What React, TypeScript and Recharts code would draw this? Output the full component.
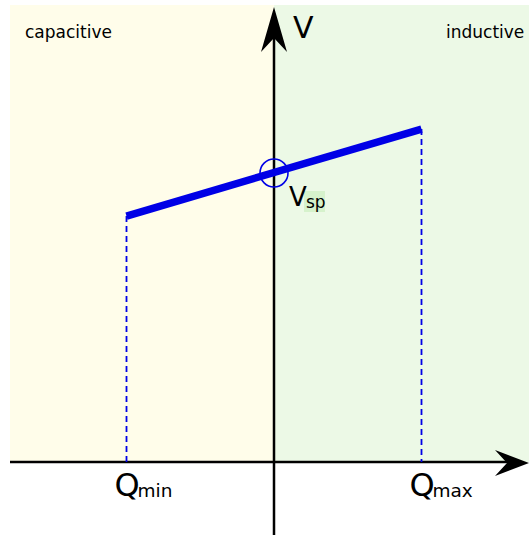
import { ComposedChart, Line, XAxis, YAxis, ReferenceArea, ReferenceLine, ReferenceDot } from 'recharts';

// Q in units of Qmax, V in units of Vsp
const qValues = [-1, 1];
const vValues = [0.851, 1.152];
const vsp = 1.0;
const regionLabels = ['capacitive', 'inductive'];
const axisLabels = { v: 'V', vsp: 'V', vspSub: 'sp', qmin: 'Q', qminSub: 'min', qmax: 'Q', qmaxSub: 'max' };

const lineData = qValues.map((q, i) => ({ q, v: vValues[i] }));

const PX_Q = 147.5;
const PX_V = 289;
const xDomain: [number, number] = [-274 / PX_Q, 255 / PX_Q];
const yDomain: [number, number] = [-73 / PX_V, 462 / PX_V];
const bgLeft = -264 / PX_Q;
const bgTop = 457 / PX_V;

const BLUE = '#0000e6';
const FONT = 'DejaVu Sans, sans-serif';

const upArrow = ({ cx, cy }: any) => (
  <path d={`M${cx},${cy + 7} L${cx + 13},${cy + 52} L${cx},${cy + 38} L${cx - 13},${cy + 52} Z`} fill="#000" />
);
const rightArrow = ({ cx, cy }: any) => (
  <path d={`M${cx},${cy + 1} L${cx - 34},${cy - 12} L${cx - 22},${cy + 1} L${cx - 34},${cy + 14} Z`} fill="#000" />
);
const textAt = (s: string, dx: number, dy: number, size: number) => ({ cx, cy }: any) => (
  <text x={cx + dx} y={cy + dy} fontFamily={FONT} fontSize={size} fill="#000">{s}</text>
);
const vspLabel = ({ cx, cy }: any) => (
  <g>
    <rect x={cx + 30} y={cy + 18} width={21} height={21} fill="#d6f2cc" />
    <text x={cx + 15} y={cy + 33} fontFamily={FONT} fontSize={26} fill="#000">{axisLabels.vsp}</text>
    <text x={cx + 32} y={cy + 35} fontFamily={FONT} fontSize={17} fill="#000">{axisLabels.vspSub}</text>
  </g>
);
const subLabel = (main: string, sub: string) => ({ cx, cy }: any) => (
  <g>
    <text x={cx - 12} y={cy + 34} fontFamily={FONT} fontSize={32} fill="#000">{main}</text>
    <text x={cx + 11} y={cy + 35} fontFamily={FONT} fontSize={18.5} fill="#000">{sub}</text>
  </g>
);

export default function App() {
  return (
    <div style={{ position: 'absolute', left: 0, top: 0 }}>
      <ComposedChart width={529} height={535} data={lineData} margin={{ top: 0, right: 0, bottom: 0, left: 0 }}>
        <XAxis type="number" dataKey="q" domain={xDomain} hide allowDataOverflow />
        <YAxis type="number" domain={yDomain} hide allowDataOverflow />
        <ReferenceArea x1={bgLeft} x2={0} y1={0} y2={bgTop} fill="#fffdea" fillOpacity={1} stroke="none" />
        <ReferenceArea x1={0} x2={xDomain[1]} y1={0} y2={bgTop} fill="#ecf9e6" fillOpacity={1} stroke="none" />
        <ReferenceLine segment={[{ x: bgLeft, y: 0 }, { x: xDomain[1] - 20 / PX_Q, y: 0 }]} stroke="#000" strokeWidth={2.5} ifOverflow="visible" />
        <ReferenceLine segment={[{ x: 0, y: yDomain[0] }, { x: 0, y: yDomain[1] - 20 / PX_V }]} stroke="#000" strokeWidth={2.5} ifOverflow="visible" />
        <ReferenceLine segment={[{ x: qValues[0], y: vValues[0] }, { x: qValues[0], y: 0 }]} stroke={BLUE} strokeWidth={1.8} strokeDasharray="6 4" ifOverflow="visible" />
        <ReferenceLine segment={[{ x: qValues[1], y: vValues[1] }, { x: qValues[1], y: 0 }]} stroke={BLUE} strokeWidth={1.8} strokeDasharray="6 4" ifOverflow="visible" />
        <Line dataKey="v" stroke={BLUE} strokeWidth={7.5} dot={false} activeDot={false} isAnimationActive={false} />
        <ReferenceDot x={0} y={vsp} r={14} fill="none" stroke={BLUE} strokeWidth={1.6} ifOverflow="visible" />
        <ReferenceDot x={0} y={yDomain[1]} r={0} shape={upArrow} ifOverflow="visible" />
        <ReferenceDot x={xDomain[1]} y={0} r={0} shape={rightArrow} ifOverflow="visible" />
        <ReferenceDot x={0} y={yDomain[1]} r={0} shape={textAt(axisLabels.v, 19, 38, 30)} ifOverflow="visible" />
        <ReferenceDot x={xDomain[0]} y={yDomain[1]} r={0} shape={textAt(regionLabels[0], 25, 38, 17)} ifOverflow="visible" />
        <ReferenceDot x={xDomain[1]} y={yDomain[1]} r={0} shape={textAt(regionLabels[1], -83, 38, 17)} ifOverflow="visible" />
        <ReferenceDot x={0} y={vsp} r={0} shape={vspLabel} ifOverflow="visible" />
        <ReferenceDot x={qValues[0]} y={0} r={0} shape={subLabel(axisLabels.qmin, axisLabels.qminSub)} ifOverflow="visible" />
        <ReferenceDot x={qValues[1]} y={0} r={0} shape={subLabel(axisLabels.qmax, axisLabels.qmaxSub)} ifOverflow="visible" />
      </ComposedChart>
    </div>
  );
}
